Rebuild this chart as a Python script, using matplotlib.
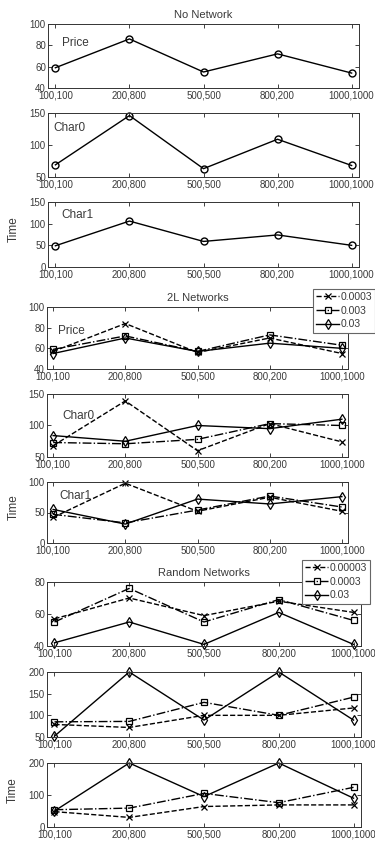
import matplotlib
matplotlib.use('Agg')
import matplotlib.pyplot as plt

plt.rcParams['font.family'] = ['Liberation Sans', 'DejaVu Sans']

# x categories (shared by all panels)
categories = ['100,100', '200,800', '500,500', '800,200', '1000,1000']

# No Network
nonet_price = [59, 86, 55, 72, 54]
nonet_char0 = [69, 146, 63, 109, 68]
nonet_char1 = [49, 106, 59, 74, 50]

# 2L Networks
l2_labels = ['0.0003', '0.003', '0.03']
l2_price = [[57, 84, 56, 70, 55], [59, 72, 57, 73, 63], [55, 70, 57, 65, 60]]
l2_char0 = [[68, 139, 60, 103, 74], [73, 71, 78, 103, 100], [84, 75, 100, 95, 110]]
l2_char1 = [[42, 98, 52, 75, 52], [47, 33, 54, 77, 59], [55, 31, 72, 64, 76]]

# Random Networks
rn_labels = ['0.00003', '0.0003', '0.03']
rn_price = [[57, 70, 59, 68, 61], [55, 76, 55, 69, 56], [42, 55, 41, 61, 41]]
rn_char0 = [[79, 72, 100, 100, 117], [85, 86, 130, 100, 142], [52, 200, 89, 200, 89]]
rn_char1 = [[48, 30, 64, 69, 69], [54, 59, 105, 76, 124], [50, 200, 95, 200, 90]]

W, H = 375, 844
TXT = '#3a3a3a'
styles = [('x', '--'), ('s', '-.'), ('d', '-')]

fig = plt.figure(figsize=(W / 100, H / 100), dpi=100)


def make_ax(left, top, right, bottom, ylim, yticks, pad):
    # pixel box -> figure fraction
    ax = fig.add_axes([left / W, 1 - bottom / H, (right - left) / W, (bottom - top) / H])
    ax.set_xlim(-pad, 4 + pad)
    ax.set_ylim(*ylim)
    ax.set_xticks(range(5))
    ax.set_xticklabels(categories)
    ax.set_yticks(yticks)
    ax.tick_params(direction='in', length=3, width=0.6, top=True, right=True,
                   labelsize=7, colors='#222222', labelcolor=TXT, pad=1.5)
    for s in ax.spines.values():
        s.set_linewidth(0.7)
        s.set_color('#333333')
    return ax


def inner_label(ax, text, x, y):
    ax.text(x, y, text, transform=ax.transAxes, ha='left', va='center', fontsize=8.5, color=TXT)


def time_label(ax):
    ax.set_ylabel('Time', fontsize=8.5, color=TXT)
    ax.yaxis.set_label_coords(-0.09, 0.58)


def draw_multi(ax, series, labels):
    lines = []
    for vals, lab, (m, ls) in zip(series, labels, styles):
        ln, = ax.plot(range(5), vals, color='black', linestyle=ls, marker=m, markersize=5,
                      markerfacecolor='none', markeredgecolor='black', markeredgewidth=0.9,
                      linewidth=1.0, label=lab, clip_on=False)
        lines.append(ln)
    return lines


def add_legend(handles, x, y):
    leg = fig.legend(handles=handles, loc='upper left', bbox_to_anchor=(x / W, 1 - y / H),
                     bbox_transform=fig.transFigure, fontsize=7.5, frameon=True, fancybox=False,
                     handlelength=2.2, handletextpad=0.15, borderpad=0.3, labelspacing=0.35,
                     borderaxespad=0, framealpha=1)
    leg.get_frame().set_edgecolor('#666666')
    leg.get_frame().set_linewidth(0.8)
    for t in leg.get_texts():
        t.set_color(TXT)
    return leg


# ---- No Network ----
a1 = make_ax(48, 24, 359, 88, (40, 100), [40, 60, 80, 100], 0.1)
a1.plot(range(5), nonet_price, 'k-o', markersize=5, markerfacecolor='none', linewidth=1.0, clip_on=False)
a1.set_title('No Network', fontsize=8, color=TXT, pad=4)
inner_label(a1, 'Price', 0.045, 0.70)

a2 = make_ax(48, 113, 359, 177, (50, 150), [50, 100, 150], 0.1)
a2.plot(range(5), nonet_char0, 'k-o', markersize=5, markerfacecolor='none', linewidth=1.0, clip_on=False)
inner_label(a2, 'Char0', 0.016, 0.77)

a3 = make_ax(48, 202, 359, 267, (0, 150), [0, 50, 100, 150], 0.1)
a3.plot(range(5), nonet_char1, 'k-o', markersize=5, markerfacecolor='none', linewidth=1.0, clip_on=False)
inner_label(a3, 'Char1', 0.042, 0.80)
time_label(a3)

# ---- 2L Networks ----
a4 = make_ax(47, 307, 348, 369, (40, 100), [40, 60, 80, 100], 0.085)
lines = draw_multi(a4, l2_price, l2_labels)
a4.set_title('2L Networks', fontsize=8, color=TXT, pad=4)
inner_label(a4, 'Price', 0.037, 0.61)

a5 = make_ax(47, 394, 348, 457, (50, 150), [50, 100, 150], 0.085)
draw_multi(a5, l2_char0, l2_labels)
inner_label(a5, 'Char0', 0.05, 0.65)

a6 = make_ax(47, 482, 348, 543, (0, 100), [0, 50, 100], 0.085)
draw_multi(a6, l2_char1, l2_labels)
inner_label(a6, 'Char1', 0.04, 0.77)
time_label(a6)

add_legend(lines, 313, 289)

# ---- Random Networks ----
a7 = make_ax(47, 582, 361, 646, (40, 80), [40, 60, 80], 0.1)
lines = draw_multi(a7, rn_price, rn_labels)
a7.set_title('Random Networks', fontsize=8, color=TXT, pad=4)

a8 = make_ax(47, 672, 361, 737, (50, 200), [50, 100, 150, 200], 0.1)
draw_multi(a8, rn_char0, rn_labels)

a9 = make_ax(47, 763, 361, 827, (0, 200), [0, 100, 200], 0.1)
draw_multi(a9, rn_char1, rn_labels)
time_label(a9)

add_legend(lines, 302, 560)

fig.savefig('out.png', dpi=100, facecolor='white')
